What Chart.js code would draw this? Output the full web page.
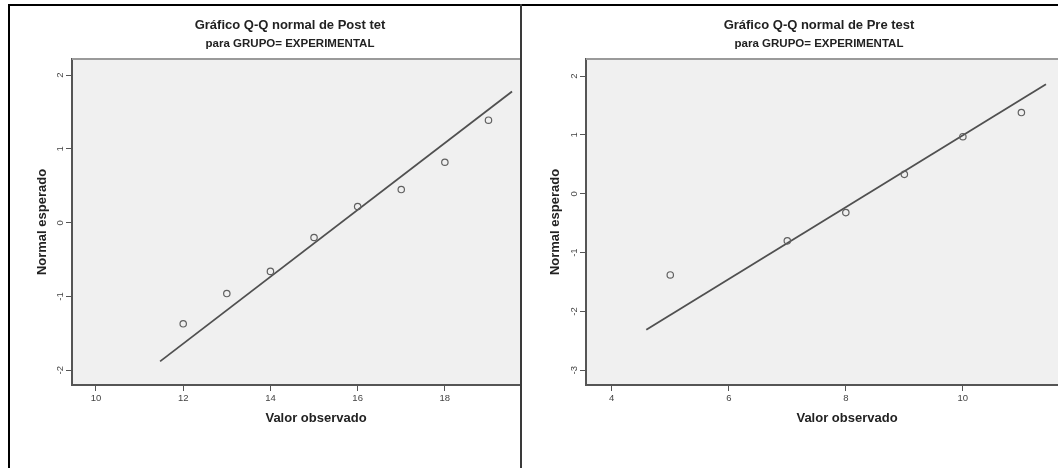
<!DOCTYPE html>
<html>
<head>
<meta charset="utf-8">
<script src="https://cdn.jsdelivr.net/npm/chart.js@4/dist/chart.umd.min.js"></script>
<style>
  html, body { margin: 0; padding: 0; background: #fff; width: 1058px; height: 468px; overflow: hidden; }
  .panel { position: absolute; top: 0; height: 468px; overflow: hidden; }
  .panel canvas { display: block; }
  .rule { position: absolute; background: #000; }
</style>
</head>
<body>
<div class="panel" style="left:10px;width:511px"><canvas id="qqPost" width="562" height="468"></canvas></div>
<div class="panel" style="left:523px;width:535px"><canvas id="qqPre" width="592" height="468"></canvas></div>
<div class="rule" style="left:8px;top:4px;width:1050px;height:2px"></div>
<div class="rule" style="left:8px;top:4px;width:2px;height:464px"></div>
<div class="rule" style="left:520px;top:4px;width:2px;height:464px;background:#3a3a3a"></div>
<script>
// Post test: observed values and their expected normal quantiles
const postObserved = [12, 13, 14, 15, 16, 17, 18, 19];
const postExpected = [-1.37, -0.96, -0.66, -0.20, 0.22, 0.45, 0.82, 1.39];
const postLineX = [11.47, 19.54];
const postLineY = [-1.88, 1.78];
const postXTicks = [10, 12, 14, 16, 18, 20];
const postYTicks = [-2, -1, 0, 1, 2];
const postXRange = [9.45, 20.64];
const postYRange = [-2.2, 2.22];

// Pre test
const preObserved = [5, 7, 8, 9, 10, 11];
const preExpected = [-1.38, -0.80, -0.32, 0.33, 0.97, 1.38];
const preLineX = [4.59, 11.42];
const preLineY = [-2.31, 1.86];
const preXTicks = [4, 6, 8, 10, 12];
const preYTicks = [-3, -2, -1, 0, 1, 2];
const preXRange = [3.56, 12.48];
const preYRange = [-3.25, 2.29];

const titles = ['Gráfico Q-Q normal de Post tet', 'Gráfico Q-Q normal de Pre test'];
const subtitleText = 'para GRUPO= EXPERIMENTAL';
const xTitle = 'Valor observado';
const yTitle = 'Normal esperado';

const FONT = "'Liberation Sans', Arial, sans-serif";
const INK = '#555';

// plot background and frame like the SPSS chart editor
const plotFrame = {
  id: 'plotFrame',
  beforeDatasetsDraw(chart) {
    const { ctx, chartArea: a } = chart;
    ctx.save();
    ctx.strokeStyle = '#9a9a9a';
    ctx.lineWidth = 2;
    ctx.beginPath();
    ctx.moveTo(a.left, a.top);
    ctx.lineTo(a.right, a.top);
    ctx.lineTo(a.right, a.bottom);
    ctx.stroke();
    ctx.restore();
  },
  beforeDraw(chart) {
    const { ctx, chartArea: a } = chart;
    ctx.save();
    ctx.fillStyle = '#f0f0f0';
    ctx.fillRect(a.left, a.top, a.right - a.left, a.bottom - a.top);
    ctx.restore();
  }
};

function toPoints(xs, ys) {
  return xs.map((x, i) => ({ x: x, y: ys[i] }));
}

function qqChart(id, p) {
  return new Chart(document.getElementById(id), {
    type: 'scatter',
    data: {
      datasets: [
        {
          data: toPoints(p.obs, p.exp),
          pointStyle: 'circle',
          pointRadius: 3.2,
          pointBorderWidth: 1.2,
          pointBorderColor: '#606060',
          pointBackgroundColor: 'rgba(0,0,0,0)',
          order: 1
        },
        {
          type: 'line',
          data: toPoints(p.lineX, p.lineY),
          borderColor: '#505050',
          borderWidth: 1.8,
          pointRadius: 0,
          fill: false,
          order: 2
        }
      ]
    },
    options: {
      responsive: false,
      animation: false,
      events: [],
      layout: { padding: { left: p.padL, right: p.padR, top: 0, bottom: 0 } },
      plugins: {
        legend: { display: false },
        tooltip: { enabled: false },
        title: {
          display: true,
          text: p.title,
          color: '#222',
          font: { family: FONT, size: 13, weight: 'bold', lineHeight: 1.2 },
          padding: { top: 18, bottom: 0 }
        },
        subtitle: {
          display: true,
          text: subtitleText,
          color: '#222',
          font: { family: FONT, size: 11.5, weight: 'bold', lineHeight: 1.2 },
          padding: { top: 3, bottom: 8.6 }
        }
      },
      scales: {
        x: {
          type: 'linear',
          min: p.xRange[0],
          max: p.xRange[1],
          afterBuildTicks: s => { s.ticks = p.xTicks.map(v => ({ value: v })); },
          afterFit: s => { s.height = 83; },
          ticks: { color: '#444', font: { family: FONT, size: 9.5 }, padding: 2, maxRotation: 0, minRotation: 0 },
          grid: { drawOnChartArea: false, drawTicks: true, tickLength: 6, color: INK, lineWidth: 1 },
          border: { display: true, color: INK, width: 2 },
          title: {
            display: true,
            text: xTitle,
            color: '#222',
            font: { family: FONT, size: 13, weight: 'bold', lineHeight: 1.2 },
            padding: { top: 0, bottom: 42.2 }
          }
        },
        y: {
          type: 'linear',
          min: p.yRange[0],
          max: p.yRange[1],
          afterBuildTicks: s => { s.ticks = p.yTicks.map(v => ({ value: v })); },
          afterFit: s => { s.width = p.yWidth; },
          ticks: {
            color: '#444',
            font: { family: FONT, size: 9.5 },
            padding: 1,
            minRotation: 90,
            maxRotation: 90,
            crossAlign: 'center'
          },
          grid: { drawOnChartArea: false, drawTicks: true, tickLength: 6, color: INK, lineWidth: 1 },
          border: { display: true, color: INK, width: 2 },
          title: {
            display: true,
            text: yTitle,
            color: '#222',
            font: { family: FONT, size: 13, weight: 'bold', lineHeight: 1.2 },
            padding: { top: p.yTitlePad, bottom: 0 }
          }
        }
      }
    },
    plugins: [plotFrame]
  });
}

qqChart('qqPost', {
  obs: postObserved, exp: postExpected, lineX: postLineX, lineY: postLineY,
  xTicks: postXTicks, yTicks: postYTicks, xRange: postXRange, yRange: postYRange,
  title: titles[0], padL: 10, padR: 12, yWidth: 52, yTitlePad: 14.2
});

qqChart('qqPre', {
  obs: preObserved, exp: preExpected, lineX: preLineX, lineY: preLineY,
  xTicks: preXTicks, yTicks: preYTicks, xRange: preXRange, yRange: preYRange,
  title: titles[1], padL: 7, padR: 7, yWidth: 56, yTitlePad: 17.2
});
</script>
</body>
</html>
